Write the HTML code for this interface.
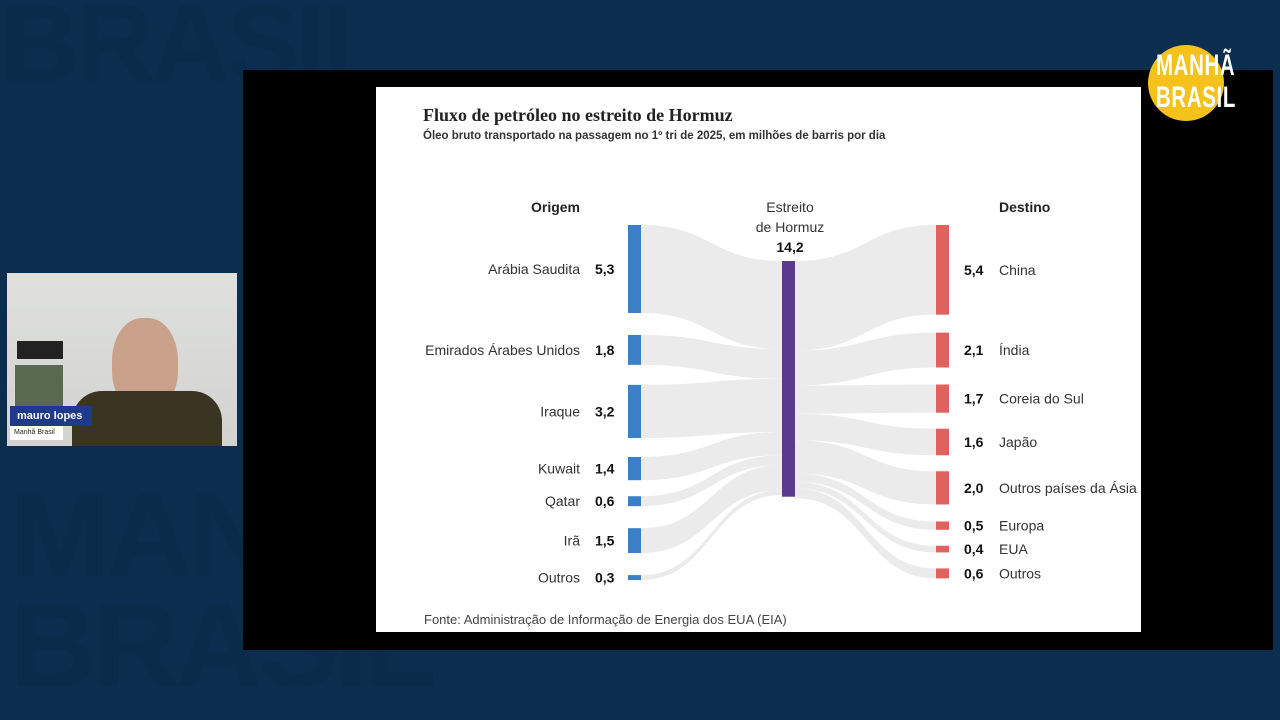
<!DOCTYPE html>
<html><head><meta charset="utf-8"><style>
body{margin:0;width:1280px;height:720px;overflow:hidden;background:#0b2e4e;font-family:"Liberation Sans",sans-serif;position:relative}
.abs{position:absolute}
.wm{position:absolute;color:#0a2b49;font-weight:bold;font-family:"Liberation Sans",sans-serif;letter-spacing:-4px}
</style></head><body>
<div class="wm" style="left:0;top:-20px;font-size:110px;">BRASIL</div>
<div class="wm" style="left:10px;top:480px;font-size:120px;line-height:110px">MANH<br>BRASIL</div>
<div class="abs" style="left:243px;top:70px;width:1030px;height:580px;background:#000"></div>
<div class="abs" style="left:376px;top:87px;width:765px;height:545px;background:#fff"></div>
<svg class="abs" style="left:0;top:0" width="1280" height="720">
<g id="links"></g><g id="bars"></g><g id="labels"></g>
<text x="423" y="121" font-family="Liberation Serif,serif" font-weight="bold" font-size="18" fill="#222">Fluxo de petróleo no estreito de Hormuz</text>
<text x="423" y="139" font-weight="bold" font-size="11.5" fill="#333">Óleo bruto transportado na passagem no 1º tri de 2025, em milhões de barris por dia</text>
<text x="580" y="212" text-anchor="end" font-weight="bold" font-size="14" fill="#222">Origem</text>
<text x="999" y="212" font-weight="bold" font-size="14" fill="#222">Destino</text>
<text x="790" y="212" text-anchor="middle" font-size="14" fill="#333">Estreito</text>
<text x="790" y="232" text-anchor="middle" font-size="14" fill="#333">de Hormuz</text>
<text x="790" y="252" text-anchor="middle" font-weight="bold" font-size="14" fill="#111">14,2</text>
<text x="424" y="624" font-size="13" fill="#444">Fonte: Administração de Informação de Energia dos EUA (EIA)</text>
</svg>
<div class="abs" style="left:7px;top:273px;width:230px;height:173px;background:linear-gradient(#dfe0de,#d2d3d0)">
 <div class="abs" style="left:10px;top:68px;width:46px;height:18px;background:#222"></div>
 <div class="abs" style="left:8px;top:92px;width:48px;height:45px;background:#5a6a50"></div>
 <div class="abs" style="left:105px;top:45px;width:66px;height:95px;border-radius:45%;background:#c9a08a"></div>
 <div class="abs" style="left:65px;top:118px;width:150px;height:55px;border-radius:30px 30px 0 0;background:#3a3522"></div>
 <div class="abs" style="left:3px;top:133px;width:82px;height:20px;background:#1f3a8a;color:#fff;font-size:11px;font-weight:bold;line-height:20px;padding-left:7px;box-sizing:border-box">mauro lopes</div>
 <div class="abs" style="left:3px;top:153px;width:53px;height:14px;background:#fff;color:#222;font-size:7px;line-height:14px;padding-left:4px;box-sizing:border-box">Manhã Brasil</div>
</div>
<div class="abs" style="left:1148px;top:45px;width:76px;height:76px;border-radius:50%;background:#f5c21b"></div>
<div class="abs" style="left:1156px;top:50px;color:#fff;font-weight:bold;font-size:30px;line-height:32px;transform:scaleX(0.68);transform-origin:left top;letter-spacing:1px">MANHÃ<br>BRASIL</div>
<script>
const origins=["Arábia Saudita","Emirados Árabes Unidos","Iraque","Kuwait","Qatar","Irã","Outros"];
const originVals=[5.3,1.8,3.2,1.4,0.6,1.5,0.3];
const originText=["5,3","1,8","3,2","1,4","0,6","1,5","0,3"];
const dests=["China","Índia","Coreia do Sul","Japão","Outros países da Ásia","Europa","EUA","Outros"];
const destVals=[5.4,2.1,1.7,1.6,2.0,0.5,0.4,0.6];
const destText=["5,4","2,1","1,7","1,6","2,0","0,5","0,4","0,6"];
const total=14.2;
const K=16.6, TOP=225, LGAPS=[22,20,19,16,22,22], RGAPS=[18,17,16,16,17,16,16];
const LX=628,CX=782,RX=936,BW=13,CTOP=261;
const NS="http://www.w3.org/2000/svg";
function mk(t,a,p){const e=document.createElementNS(NS,t);for(const k in a)e.setAttribute(k,a[k]);document.getElementById(p).appendChild(e);return e;}
function link(x0,y0,x1,y1,h){const m=(x0+x1)/2;return `M${x0},${y0}C${m},${y0} ${m},${y1} ${x1},${y1}L${x1},${y1+h}C${m},${y1+h} ${m},${y0+h} ${x0},${y0+h}Z`;}
const sb=mk('rect',{x:CX,y:CTOP,width:BW,height:total*K,fill:'#5b3a8e'},'bars');


let y=TOP,cy=CTOP;
originVals.forEach((v,i)=>{const h=v*K;
 const l=mk('path',{d:link(LX+BW,y,CX,cy,h),fill:'#ebebeb'},'links');
 
 
 const r=mk('rect',{x:LX,y:y,width:BW,height:h,fill:'#3b80c6'},'bars');
 
 
 const t=mk('text',{x:580,y:y+h/2+5,'text-anchor':'end','font-size':14,fill:'#333'},'labels');t.textContent=origins[i];
 
 
 const n=mk('text',{x:595,y:y+h/2+5,'font-size':14,'font-weight':'bold',fill:'#111'},'labels');n.textContent=originText[i];
 
 
 y+=h+(LGAPS[i]||0);cy+=h;});
y=TOP;cy=CTOP;
destVals.forEach((v,i)=>{const h=v*K;
 const l=mk('path',{d:link(CX+BW,cy,RX,y,h),fill:'#ebebeb'},'links');
 
 
 const r=mk('rect',{x:RX,y:y,width:BW,height:h,fill:'#e0625f'},'bars');
 
 
 const n=mk('text',{x:964,y:y+h/2+5,'font-size':14,'font-weight':'bold',fill:'#111'},'labels');n.textContent=destText[i];
 
 
 const t=mk('text',{x:999,y:y+h/2+5,'font-size':14,fill:'#333'},'labels');t.textContent=dests[i];
 
 
 y+=h+(RGAPS[i]||0);cy+=h;});
</script>
</body></html>
